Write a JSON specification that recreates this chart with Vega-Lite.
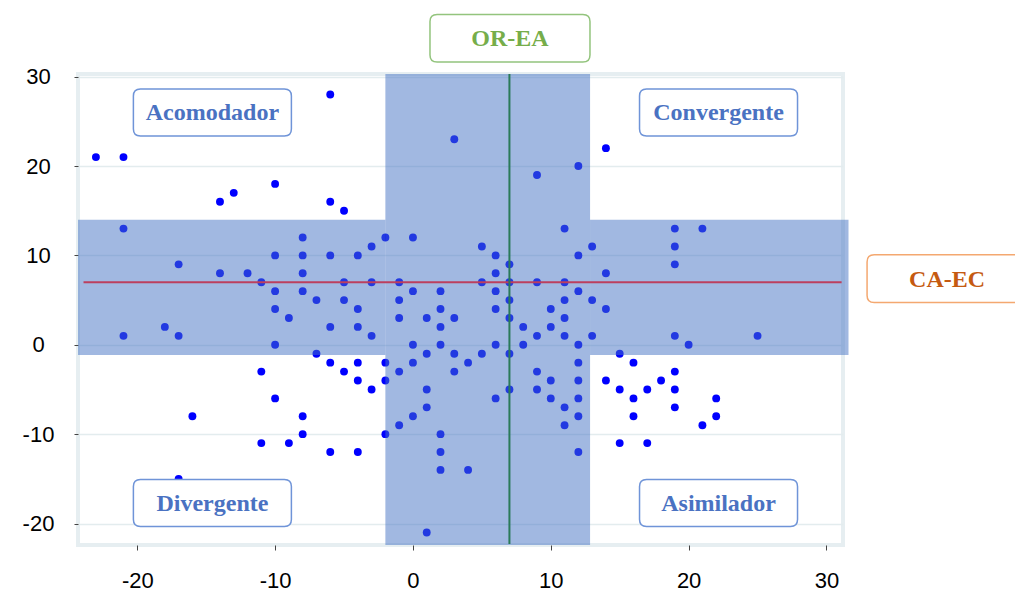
{
  "$schema": "https://vega.github.io/schema/vega-lite/v6.json",
  "autosize": {"type": "none"},
  "width": 765,
  "height": 471,
  "padding": {"left": 78, "top": 74, "right": 172, "bottom": 55},
  "background": "white",
  "config": {
    "view": {"stroke": "#e6eef1", "strokeWidth": 4},
    "text": {"font": "Liberation Serif"}
  },
  "datasets": {
    "points": [
      {"x":-23,"y":21},{"x":-21,"y":21},{"x":-14,"y":16},{"x":-13,"y":17},{"x":-10,"y":18},{"x":-6,"y":28},{"x":-6,"y":16},{"x":-5,"y":15},{"x":3,"y":23},{"x":9,"y":19},{"x":12,"y":20},{"x":14,"y":22},
      {"x":-21,"y":13},{"x":11,"y":13},{"x":19,"y":13},{"x":21,"y":13},
      {"x":-17,"y":9},{"x":-14,"y":8},{"x":-12,"y":8},{"x":-11,"y":7},{"x":-10,"y":10},{"x":-10,"y":6},{"x":-10,"y":4},{"x":-10,"y":0},{"x":-9,"y":3},{"x":-8,"y":12},{"x":-8,"y":10},{"x":-8,"y":8},{"x":-8,"y":6},{"x":-7,"y":5},{"x":-6,"y":10},{"x":-6,"y":2},{"x":-7,"y":-1},{"x":-6,"y":-2},{"x":-11,"y":-3},{"x":-21,"y":1},{"x":-18,"y":2},{"x":-17,"y":1},
      {"x":-4,"y":10},{"x":-3,"y":11},{"x":-2,"y":12},{"x":0,"y":12},{"x":5,"y":11},{"x":6,"y":10},{"x":7,"y":9},{"x":12,"y":10},{"x":6,"y":8},
      {"x":-5,"y":7},{"x":-3,"y":7},{"x":-1,"y":7},{"x":5,"y":7},{"x":7,"y":7},{"x":9,"y":7},{"x":11,"y":7},
      {"x":0,"y":6},{"x":2,"y":6},{"x":6,"y":6},{"x":12,"y":6},
      {"x":-5,"y":5},{"x":-1,"y":5},{"x":7,"y":5},{"x":11,"y":5},{"x":13,"y":5},
      {"x":-4,"y":4},{"x":2,"y":4},{"x":6,"y":4},{"x":10,"y":4},
      {"x":-1,"y":3},{"x":1,"y":3},{"x":3,"y":3},{"x":7,"y":3},{"x":11,"y":3},
      {"x":-4,"y":2},{"x":2,"y":2},{"x":8,"y":2},{"x":10,"y":2},
      {"x":-3,"y":1},{"x":9,"y":1},{"x":11,"y":1},
      {"x":0,"y":0},{"x":2,"y":0},{"x":6,"y":0},{"x":8,"y":0},{"x":12,"y":0},
      {"x":1,"y":-1},{"x":3,"y":-1},{"x":5,"y":-1},{"x":7,"y":-1},
      {"x":-4,"y":-2},{"x":-2,"y":-2},{"x":0,"y":-2},{"x":4,"y":-2},{"x":12,"y":-2},
      {"x":-5,"y":-3},{"x":-1,"y":-3},{"x":3,"y":-3},{"x":9,"y":-3},
      {"x":-4,"y":-4},{"x":10,"y":-4},{"x":12,"y":-4},
      {"x":13,"y":11},{"x":19,"y":11},{"x":19,"y":9},{"x":14,"y":8},{"x":14,"y":4},{"x":13,"y":1},{"x":19,"y":1},{"x":25,"y":1},{"x":20,"y":0},{"x":15,"y":-1},{"x":16,"y":-2},{"x":19,"y":-3},{"x":14,"y":-4},{"x":18,"y":-4},
      {"x":-2,"y":-4},{"x":-3,"y":-5},{"x":1,"y":-5},{"x":7,"y":-5},{"x":9,"y":-5},{"x":6,"y":-6},{"x":10,"y":-6},{"x":12,"y":-6},{"x":1,"y":-7},{"x":11,"y":-7},{"x":0,"y":-8},{"x":12,"y":-8},{"x":-1,"y":-9},{"x":11,"y":-9},{"x":-2,"y":-10},{"x":2,"y":-10},{"x":-6,"y":-12},{"x":-4,"y":-12},{"x":2,"y":-12},{"x":12,"y":-12},{"x":2,"y":-14},{"x":4,"y":-14},{"x":1,"y":-21},
      {"x":-10,"y":-6},{"x":-16,"y":-8},{"x":-8,"y":-8},{"x":-8,"y":-10},{"x":-11,"y":-11},{"x":-9,"y":-11},{"x":-17,"y":-15},
      {"x":15,"y":-5},{"x":17,"y":-5},{"x":19,"y":-5},{"x":16,"y":-6},{"x":22,"y":-6},{"x":19,"y":-7},{"x":16,"y":-8},{"x":22,"y":-8},{"x":21,"y":-9},{"x":15,"y":-11},{"x":17,"y":-11}
    ],
    "bands": [
      {"x": -2, "xe": 12.85, "y": -22.4, "ye": 30.3},
      {"x": -24.3, "xe": -2, "y": -1.15, "ye": 14},
      {"x": 12.85, "xe": 31.6, "y": -1.15, "ye": 14}
    ],
    "lines": [
      {"name": "CA-EC", "x": -23.9, "xe": 31.1, "y": 7, "ye": 7},
      {"name": "OR-EA", "x": 7, "xe": 7, "y": -22.3, "ye": 30.3}
    ],
    "labels": [
      {"label": "Acomodador", "kind": "q", "x": -14.55, "y": 26.0},
      {"label": "Convergente", "kind": "q", "x": 22.17, "y": 26.0},
      {"label": "Divergente", "kind": "q", "x": -14.55, "y": -17.7},
      {"label": "Asimilador", "kind": "q", "x": 22.17, "y": -17.7},
      {"label": "OR-EA", "kind": "v", "x": 7.04, "y": 34.3},
      {"label": "CA-EC", "kind": "h", "x": 38.75, "y": 7.4}
    ]
  },
  "encoding": {
    "x": {
      "field": "x", "type": "quantitative",
      "scale": {"domain": [-24.3, 31.2], "nice": false, "zero": false},
      "axis": {
        "title": null, "values": [-20, -10, 0, 10, 20, 30], "grid": false, "domain": false,
        "ticks": true, "tickSize": 5, "tickColor": "#444444", "tickWidth": 1,
        "labelExpr": "'' + datum.value",
        "labelFont": "Liberation Sans", "labelFontSize": 22, "labelColor": "#000000",
        "labelPadding": 20, "labelOverlap": false, "labelFlush": false, "labelBound": false
      }
    },
    "y": {
      "field": "y", "type": "quantitative",
      "scale": {"domain": [-22.4, 30.3], "nice": false, "zero": false},
      "axis": {
        "title": null, "values": [-20, -10, 0, 10, 20, 30], "grid": true,
        "gridColor": "#e3ecee", "gridWidth": 1.5, "domain": false,
        "ticks": true, "tickSize": 4, "tickColor": "#444444", "tickWidth": 1,
        "labelExpr": "'' + datum.value",
        "labelFont": "Liberation Sans", "labelFontSize": 22, "labelColor": "#000000",
        "labelAlign": "center", "labelBaseline": "middle", "labelPadding": 36,
        "labelOverlap": false, "labelFlush": false, "labelBound": false
      }
    }
  },
  "layer": [
    {
      "data": {"name": "points"},
      "mark": {"type": "circle", "size": 62, "color": "#0000ff", "opacity": 1}
    },
    {
      "data": {"name": "bands"},
      "mark": {"type": "rect", "color": "#4472c4", "opacity": 0.5, "clip": false},
      "encoding": {"x2": {"field": "xe"}, "y2": {"field": "ye"}}
    },
    {
      "data": {"name": "lines"},
      "transform": [{"filter": "datum.name === 'CA-EC'"}],
      "mark": {"type": "rule", "color": "#bc3f5e", "strokeWidth": 2},
      "encoding": {"x2": {"field": "xe"}, "y2": {"field": "ye"}}
    },
    {
      "data": {"name": "lines"},
      "transform": [{"filter": "datum.name === 'OR-EA'"}],
      "mark": {"type": "rule", "color": "#2a7a58", "strokeWidth": 2},
      "encoding": {"x2": {"field": "xe"}, "y2": {"field": "ye"}}
    },
    {
      "data": {"name": "labels"},
      "transform": [{"filter": "datum.kind === 'q'"}],
      "mark": {
        "type": "point", "clip": false, "filled": true, "opacity": 1,
        "shape": "M-0.911,-0.2975L0.911,-0.2975Q1,-0.2975 1,-0.2089L1,0.2089Q1,0.2975 0.911,0.2975L-0.911,0.2975Q-1,0.2975 -1,0.2089L-1,-0.2089Q-1,-0.2975 -0.911,-0.2975Z",
        "size": 24964, "fill": "#ffffff", "fillOpacity": 1, "stroke": "#6f94d8", "strokeWidth": 1.5, "strokeOpacity": 1
      }
    },
    {
      "data": {"name": "labels"},
      "transform": [{"filter": "datum.kind === 'v'"}],
      "mark": {
        "type": "point", "clip": false, "filled": true, "opacity": 1,
        "shape": "M-0.911,-0.2975L0.911,-0.2975Q1,-0.2975 1,-0.2089L1,0.2089Q1,0.2975 0.911,0.2975L-0.911,0.2975Q-1,0.2975 -1,0.2089L-1,-0.2089Q-1,-0.2975 -0.911,-0.2975Z",
        "size": 25600, "fill": "#ffffff", "fillOpacity": 1, "stroke": "#93c47d", "strokeWidth": 1.5, "strokeOpacity": 1
      }
    },
    {
      "data": {"name": "labels"},
      "transform": [{"filter": "datum.kind === 'h'"}],
      "mark": {
        "type": "point", "clip": false, "filled": true, "opacity": 1,
        "shape": "M-0.911,-0.2975L0.911,-0.2975Q1,-0.2975 1,-0.2089L1,0.2089Q1,0.2975 0.911,0.2975L-0.911,0.2975Q-1,0.2975 -1,0.2089L-1,-0.2089Q-1,-0.2975 -0.911,-0.2975Z",
        "size": 25600, "fill": "#ffffff", "fillOpacity": 1, "stroke": "#f4a870", "strokeWidth": 1.5, "strokeOpacity": 1
      }
    },
    {
      "data": {"name": "labels"},
      "transform": [{"filter": "datum.kind === 'q'"}],
      "mark": {"type": "text", "clip": false, "font": "Liberation Serif", "fontWeight": "bold", "fontSize": 24, "color": "#4a72c2", "align": "center", "baseline": "middle", "dy": 1},
      "encoding": {"text": {"field": "label"}}
    },
    {
      "data": {"name": "labels"},
      "transform": [{"filter": "datum.kind === 'v'"}],
      "mark": {"type": "text", "clip": false, "font": "Liberation Serif", "fontWeight": "bold", "fontSize": 24, "color": "#76ad4a", "align": "center", "baseline": "middle", "dy": 1},
      "encoding": {"text": {"field": "label"}}
    },
    {
      "data": {"name": "labels"},
      "transform": [{"filter": "datum.kind === 'h'"}],
      "mark": {"type": "text", "clip": false, "font": "Liberation Serif", "fontWeight": "bold", "fontSize": 24, "color": "#c55a11", "align": "center", "baseline": "middle", "dy": 1},
      "encoding": {"text": {"field": "label"}}
    }
  ]
}
